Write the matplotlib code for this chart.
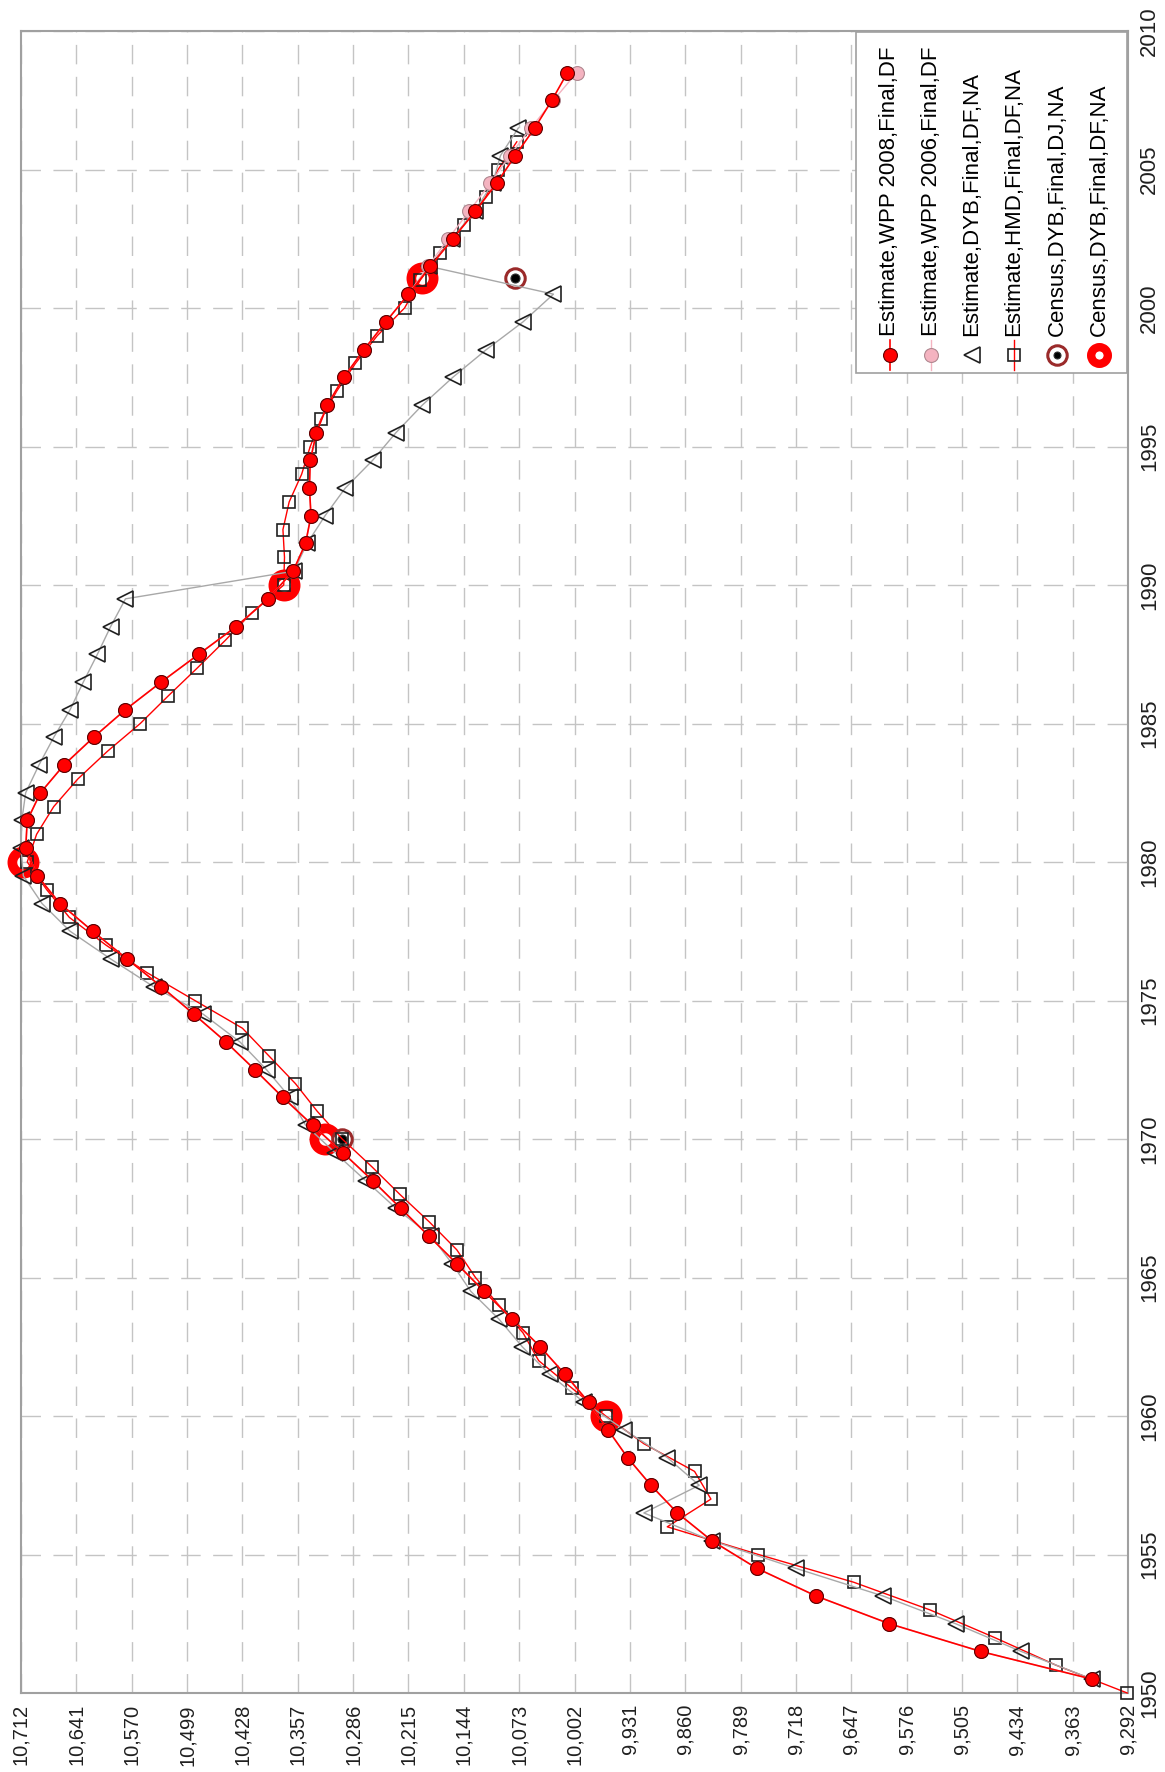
import matplotlib
matplotlib.use('Agg')
import matplotlib.pyplot as plt
from matplotlib.lines import Line2D
from matplotlib.patches import Rectangle
import numpy as np

# total population, thousands
wpp_years = np.arange(1950.5, 2009, 1.0)
wpp2008 = [9338, 9481, 9598, 9692, 9768, 9826, 9870, 9904, 9934, 9959,
           9984, 10014, 10046, 10082, 10118, 10153, 10189, 10225, 10261, 10299,
           10338, 10376, 10412, 10449, 10490, 10532, 10576, 10620, 10662, 10691,
           10706, 10704, 10687, 10657, 10619, 10578, 10532, 10484, 10436, 10395,
           10363, 10347, 10340, 10342, 10341, 10333, 10319, 10298, 10272, 10244,
           10215, 10187, 10158, 10129, 10102, 10078, 10053, 10031, 10011]
wpp2006 = [9338, 9481, 9598, 9692, 9768, 9826, 9870, 9904, 9934, 9959,
           9984, 10014, 10046, 10082, 10118, 10153, 10189, 10225, 10261, 10299,
           10338, 10376, 10412, 10449, 10490, 10532, 10576, 10620, 10662, 10691,
           10706, 10704, 10687, 10657, 10619, 10578, 10532, 10484, 10436, 10395,
           10363, 10347, 10340, 10342, 10341, 10333, 10319, 10298, 10272, 10244,
           10215, 10190, 10164, 10137, 10110, 10085, 10058, 10029, 9999]

dyb_years = np.arange(1950.5, 2007, 1.0)
dyb = [9338, 9429, 9513, 9606, 9718, 9826, 9913, 9842, 9883, 9938,
       9990, 10034, 10069, 10099, 10135, 10159, 10186, 10231, 10270, 10309,
       10347, 10367, 10397, 10431, 10478, 10542, 10597, 10649, 10685, 10709,
       10712, 10711, 10706, 10689, 10670, 10649, 10632, 10614, 10597, 10578,
       10362, 10345, 10322, 10296, 10261, 10231, 10197, 10158, 10115, 10068,
       10029, 10188, 10159, 10130, 10107, 10097, 10074]

hmd_years = np.arange(1950, 2007)
hmd = [9293, 9384, 9463, 9546, 9644, 9766, 9883, 9827, 9848, 9913,
       9962, 10005, 10048, 10068, 10099, 10129, 10153, 10188, 10226, 10262,
       10300, 10332, 10360, 10394, 10428, 10489, 10550, 10603, 10650, 10679,
       10704, 10692, 10670, 10639, 10601, 10559, 10523, 10486, 10450, 10416,
       10375, 10374, 10376, 10368, 10352, 10341, 10327, 10307, 10283, 10255,
       10220, 10200, 10174, 10144, 10116, 10100, 10076]

census_dj_years = [1970.0, 2001.1]
census_dj = [10300, 10078]
census_df_years = [1960.0, 1970.0, 1980.0, 1990.0, 2001.1]
census_df = [9961, 10322, 10709, 10375, 10198]

labels = ['Estimate,WPP 2008,Final,DF',
          'Estimate,WPP 2006,Final,DF',
          'Estimate,DYB,Final,DF,NA',
          'Estimate,HMD,Final,DF,NA',
          'Census,DYB,Final,DJ,NA',
          'Census,DYB,Final,DF,NA']

W, H = 1165, 1772
def fx(px):
    return px / W
def fy(py):
    return 1 - py / H

fig = plt.figure(figsize=(W / 100, H / 100), dpi=100)
ax = fig.add_axes([fx(21), fy(1693), fx(1128) - fx(21), fy(31) - fy(1693)])

narrow = ['Liberation Sans Narrow', 'Liberation Sans', 'DejaVu Sans']

# styles for each series
RED = '#ff0000'
PINK = '#f4b3c0'
sty_wpp8 = dict(color=RED, lw=1.2, marker='o', ms=10, mfc=RED, mec='#600000', mew=0.8)
sty_wpp6 = dict(color=PINK, lw=1.0, marker='o', ms=10, mfc=PINK, mec='#b08890', mew=0.8)
sty_dyb = dict(color='#a8a8a8', lw=1.0, marker='<', ms=11, mfc='none', mec='#202020', mew=1.2)
sty_hmd = dict(color=RED, lw=1.0, marker='s', ms=8.5, mfc='none', mec='#202020', mew=1.2)
sty_df = dict(ls='none', marker='o', ms=16, mfc='none', mec=RED, mew=7)
sty_dj = dict(ls='none', marker='o', ms=14, mfc='white', mec='#9a2a2a', mew=2.2)
sty_dot = dict(ls='none', marker='o', ms=6.5, mfc='black', mec='#303030', mew=0.8)

ax.plot(census_df, census_df_years, clip_on=False, zorder=3, **sty_df)
ax.plot(census_dj, census_dj_years, clip_on=False, zorder=4, **sty_dj)
ax.plot(census_dj, census_dj_years, clip_on=False, zorder=4, **sty_dot)
ax.plot(hmd, hmd_years, clip_on=False, zorder=5, **sty_hmd)
ax.plot(dyb, dyb_years, clip_on=False, zorder=6, **sty_dyb)
ax.plot(wpp2006, wpp_years, clip_on=False, zorder=7, **sty_wpp6)
ax.plot(wpp2008, wpp_years, clip_on=False, zorder=8, **sty_wpp8)

# value axis runs right to left, years go up on the right
ax.set_xlim(10712, 9292)
ax.set_ylim(1950, 2010)
vticks = np.arange(9292, 10713, 71)
ax.set_xticks(vticks)
ax.set_xticklabels(['{:,}'.format(v) for v in vticks], rotation=90,
                   fontsize=14.5, family='Liberation Sans')
ax.set_yticks(np.arange(1950, 2011, 5))
ax.yaxis.tick_right()
ax.set_yticklabels([str(y) for y in range(1950, 2011, 5)], rotation=90,
                   fontsize=16, family=narrow, va='center')
ax.tick_params(axis='both', length=0, pad=8, colors='#202020')
ax.grid(True, color='#c4c4c4', lw=1.0, ls=(0, (14, 9)))
ax.set_axisbelow(True)
for s in ax.spines.values():
    s.set_color('#a0a0a0')
    s.set_linewidth(1.5)

# legend box, drawn by hand so the entries stand on end
fig.add_artist(Rectangle((fx(856), fy(373)), fx(1127) - fx(856), fy(32) - fy(373),
                         transform=fig.transFigure, fc='white', ec='#a0a0a0',
                         lw=1.2, zorder=5))
entry_x = [890, 931, 972, 1014, 1057, 1099]
entry_sty = [sty_wpp8, sty_wpp6, dict(sty_dyb, ls='none'), sty_hmd, sty_dj,
             dict(sty_df, ms=12, mew=6)]
for px, lab, st in zip(entry_x, labels, entry_sty):
    st = dict(st)
    if st.get('ls') != 'none':
        fig.add_artist(Line2D([fx(px), fx(px)], [fy(370), fy(340)],
                              transform=fig.transFigure, color=st['color'],
                              lw=st['lw'], zorder=6))
    st.pop('color', None)
    st.pop('lw', None)
    st['ls'] = 'none'
    fig.add_artist(Line2D([fx(px)], [fy(355)], transform=fig.transFigure,
                          zorder=7, **st))
    fig.text(fx(px), fy(336), lab, rotation=90, rotation_mode='anchor',
             ha='left', va='center', fontsize=16, family=narrow,
             color='black', zorder=8)
fig.add_artist(Line2D([fx(1057)], [fy(355)], transform=fig.transFigure,
                      zorder=8, **dict(sty_dot, ms=5)))

fig.savefig('out.png', dpi=100, facecolor='white')
